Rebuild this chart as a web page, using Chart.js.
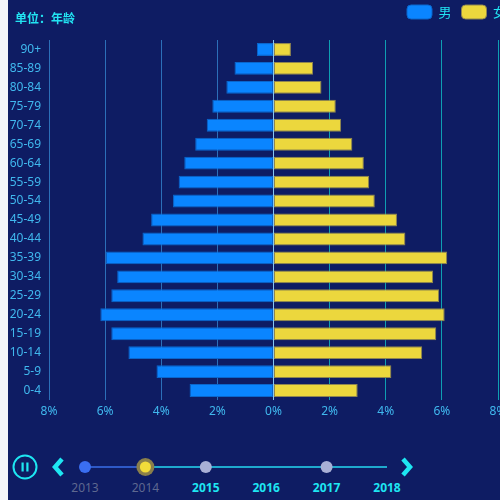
<!DOCTYPE html>
<html>
<head>
<meta charset="utf-8">
<script src="https://cdn.jsdelivr.net/npm/chart.js@4"></script>
<style>
  html, body { margin: 0; padding: 0; width: 500px; height: 500px; overflow: hidden; background: #f3f4f8; }
  #wrap { position: absolute; left: 8px; top: 0; width: 520px; height: 500px; background: #0e1c63; }
  #chartBox { position: absolute; left: 0; top: 0; width: 520px; height: 430px; }
  #unit { position: absolute; left: 7px; top: 9px; color: #22e4f2; font: bold 12px "Noto Sans CJK SC", sans-serif; }
  #timeline { position: absolute; left: -8px; top: 440px; }
</style>
</head>
<body>
<div id="wrap">
  <div id="chartBox"><canvas id="pyramid"></canvas></div>
  <div id="unit">单位：年龄</div>
  <svg id="timeline" width="500" height="60"></svg>
</div>
<script>
// Age groups, top to bottom
const ageGroups = ['90+', '85-89', '80-84', '75-79', '70-74', '65-69', '60-64', '55-59', '50-54',
  '45-49', '40-44', '35-39', '30-34', '25-29', '20-24', '15-19', '10-14', '5-9', '0-4'];

// Share of population (%)
const maleShare = [0.59, 1.39, 1.68, 2.18, 2.38, 2.79, 3.18, 3.38, 3.58,
  4.36, 4.67, 5.98, 5.57, 5.78, 6.17, 5.78, 5.17, 4.17, 2.99];
const femaleShare = [0.62, 1.41, 1.71, 2.22, 2.41, 2.81, 3.22, 3.41, 3.61,
  4.40, 4.70, 6.19, 5.69, 5.90, 6.10, 5.80, 5.30, 4.20, 3.00];

// Timeline years
const years = ['2013', '2014', '2015', '2016', '2017', '2018'];

const font = '"Noto Sans", "Noto Sans CJK SC", sans-serif';

// legend takes a fixed 40px band at the top, and sits a bit further right / up
const legendBand = {
  id: 'legendBand',
  beforeInit(chart) {
    const fit = chart.legend.fit;
    chart.legend.fit = function () {
      fit.bind(chart.legend)();
      this.height = 40;
    };
  },
  afterLayout(chart) {
    const lg = chart.legend;
    lg.left += 18;
    lg.right += 18;
    lg.top -= 5;
    lg.bottom -= 5;
  }
};

const ctx = document.getElementById('pyramid').getContext('2d');

new Chart(ctx, {
  type: 'bar',
  data: {
    labels: ageGroups,
    datasets: [
      {
        label: '男',
        data: maleShare.map(v => -v), // left side
        backgroundColor: '#0a85ff',
        borderColor: '#0a66cc',
        borderWidth: 1,
        borderSkipped: false,
        barPercentage: 0.68,
        categoryPercentage: 1
      },
      {
        label: '女',
        data: femaleShare,
        backgroundColor: '#ecd73d',
        borderColor: '#8f8650',
        borderWidth: 1,
        borderSkipped: false,
        barPercentage: 0.68,
        categoryPercentage: 1
      }
    ]
  },
  options: {
    indexAxis: 'y',
    responsive: true,
    maintainAspectRatio: false,
    animation: false,
    layout: { padding: { right: 30 } },
    plugins: {
      legend: {
        position: 'top',
        align: 'end',
        labels: {
          color: '#22e4f2',
          font: { family: '"Noto Sans CJK SC", sans-serif', size: 13 },
          boxWidth: 25,
          boxHeight: 14,
          useBorderRadius: true,
          borderRadius: 4,
          padding: 10
        }
      },
      tooltip: { enabled: false }
    },
    scales: {
      x: {
        stacked: true,
        min: -8,
        max: 8,
        ticks: {
          stepSize: 2,
          color: '#40b8ee',
          font: { family: font, size: 12 },
          padding: 4,
          callback: v => Math.abs(v) + '%'
        },
        grid: {
          drawTicks: false,
          color: c => c.tick && c.tick.value < 0 ? '#2c6fb8' : (c.tick && c.tick.value === 0 ? '#86c8f2' : '#0e9fb2')
        },
        border: { display: false },
        afterFit: s => { s.height = 30; }
      },
      y: {
        stacked: true,
        ticks: {
          color: '#40b8ee',
          font: { family: font, size: 12 },
          padding: 8
        },
        grid: { display: false, drawTicks: false, tickLength: 0 },
        border: { display: false },
        afterFit: s => { s.width = 41; }
      }
    }
  },
  plugins: [legendBand]
});

// Timeline controls under the chart
(function drawTimeline() {
  const svg = document.getElementById('timeline');
  const ns = 'http://www.w3.org/2000/svg';
  const add = (tag, attrs, text) => {
    const el = document.createElementNS(ns, tag);
    for (const k in attrs) el.setAttribute(k, attrs[k]);
    if (text) el.textContent = text;
    svg.appendChild(el);
    return el;
  };
  const cy = 27;
  const x0 = 85, step = 60.4;
  const cyan = '#1ee6f2';

  // play/pause
  add('circle', { cx: 25, cy: cy, r: 11.5, fill: 'none', stroke: cyan, 'stroke-width': 2 });
  add('rect', { x: 21.5, y: cy - 4.5, width: 2.2, height: 9, fill: cyan });
  add('rect', { x: 26.3, y: cy - 4.5, width: 2.2, height: 9, fill: cyan });
  // arrows
  add('polyline', { points: `62,${cy - 8} 55,${cy} 62,${cy + 8}`, fill: 'none', stroke: cyan, 'stroke-width': 4.5, 'stroke-linejoin': 'miter' });
  add('polyline', { points: `403,${cy - 8} 410,${cy} 403,${cy + 8}`, fill: 'none', stroke: cyan, 'stroke-width': 4.5, 'stroke-linejoin': 'miter' });

  // track
  add('line', { x1: x0, y1: cy, x2: x0 + step, y2: cy, stroke: '#3a6ee8', 'stroke-width': 1.5 });
  add('line', { x1: x0 + step, y1: cy, x2: x0 + step * 5, y2: cy, stroke: '#26d8f0', 'stroke-width': 1.5 });

  years.forEach((yr, i) => {
    const x = x0 + step * i;
    if (i === 0) add('circle', { cx: x, cy: cy, r: 6, fill: '#3a6ef0' });
    if (i === 1) {
      add('circle', { cx: x, cy: cy, r: 9, fill: '#8a7f4a' });
      add('circle', { cx: x, cy: cy, r: 5.5, fill: '#f2dc3a' });
    }
    if (i === 2 || i === 4) add('circle', { cx: x, cy: cy, r: 6, fill: '#a9b0d6' });
    const past = i < 2;
    add('text', {
      x: x, y: cy + 25, 'text-anchor': 'middle',
      fill: past ? '#5f6890' : cyan,
      'font-size': 12, 'font-weight': past ? 'normal' : 'bold',
      'font-family': "'Noto Sans', sans-serif"
    }, yr);
  });
})();
</script>
</body>
</html>
